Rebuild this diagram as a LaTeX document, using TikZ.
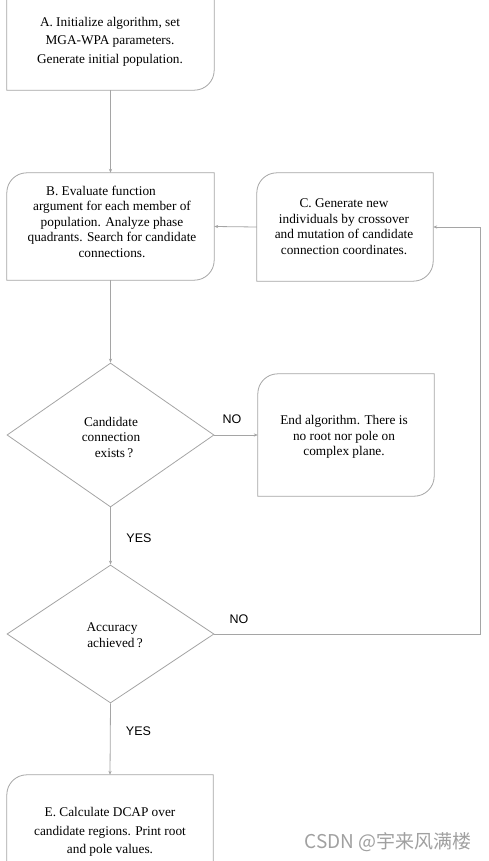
\documentclass[tikz,border=0pt]{standalone}
\usepackage{fontspec}
\setmainfont{Liberation Serif}
\newfontfamily\ynfont{Liberation Sans}
\newfontfamily\cjkfont{Noto Sans CJK SC}
\usetikzlibrary{arrows.meta,shapes.geometric}
\definecolor{linegray}{RGB}{165,165,165}
\definecolor{wmgray}{RGB}{160,160,160}
\newcommand\diagbox[1]{%
  \draw[boxline] (#1.west) [rounded corners=20pt] -- (#1.north west) [sharp corners]
    -- (#1.north east) -- (#1.east) [rounded corners=20pt] -- (#1.south east)
    [sharp corners] -- (#1.south west) -- cycle;}
\begin{document}
\begin{tikzpicture}[x=1pt,y=-1pt,
  boxshape/.style={draw=none,inner sep=0pt,rectangle},
  boxline/.style={draw=linegray,line width=0.8pt},
  dshape/.style={diamond,draw=linegray,line width=0.8pt,inner sep=0pt,minimum width=207pt},
  txt/.style={align=center,inner sep=0pt,font=\fontsize{13.3}{15.5}\selectfont},
  txtw/.style={align=center,inner sep=0pt,font=\fontsize{13.3}{18.5}\selectfont},
  conn/.style={draw=linegray,line width=0.8pt},
  arr/.style={conn,-{Stealth[length=4pt,width=3.2pt]}},
  yn/.style={inner sep=0pt,font=\ynfont\fontsize{12.5}{14}\selectfont}]
\useasboundingbox (0,0) rectangle (489,861);
\clip (0,0) rectangle (489,861);

% box shapes
\node[boxshape,minimum width=207pt,minimum height=120pt] (A) at (110.5,30) {};
\node[boxshape,minimum width=207pt,minimum height=107pt] (B) at (110.5,226.5) {};
\node[boxshape,minimum width=176pt,minimum height=108pt] (C) at (345,227) {};
\node[boxshape,minimum width=176pt,minimum height=122pt] (End) at (346,435) {};
\node[boxshape,minimum width=206pt,minimum height=125pt] (E) at (110,837.5) {};
\diagbox{A}
\diagbox{B}
\diagbox{C}
\diagbox{End}
\diagbox{E}

% diamonds
\node[dshape,minimum height=144pt] (D1) at (110.5,435) {};
\node[dshape,minimum height=138pt] (D2) at (110.5,634) {};

% texts
\node[txtw] (Atxt) at (110,41.5) {A. Initialize algorithm, set\\MGA-WPA parameters.\\Generate initial population.};
\node[txt] (Btxt) at (112,221.5) {B. Evaluate function\hspace*{22pt}\\argument for each member of\\population. Analyze phase\\quadrants. Search for candidate\\connections.};
\node[txt] (Ctxt) at (344,226.5) {C. Generate new\\individuals by crossover\\and mutation of candidate\\connection coordinates.};
\node[txt] (Endtxt) at (344,437) {End algorithm. There is\\no root nor pole on\\complex plane.};
\node[txt] (D1txt) at (111,437) {Candidate\\connection\\\hspace*{6pt}exists\,?};
\node[txt] (D2txt) at (112,635) {Accuracy\\\hspace*{6pt}achieved\,?};
\node[txtw] (Etxt) at (110,832) {E. Calculate DCAP over\\candidate regions. Print root\\and pole values.};

% labels
\node[yn] (no1) at (232,419) {NO};
\node[yn] (yes1) at (139,538) {YES};
\node[yn] (no2) at (239,619) {NO};
\node[yn] (yes2) at (138.5,731) {YES};

% connectors
\coordinate (R) at (480,634);
\draw[arr] (A.south) -- (B.north);
\draw[arr] (B.south) -- (D1.north);
\draw[arr] (C.west) -- (B.east);
\draw[arr] (D1.east) -- (End.west);
\draw[arr] (D1.south) -- (D2.north);
\draw[arr] (D2.east) -- (R) |- (C.east);
\draw[arr] (D2.south) -- (E.north);

% watermark
\node[inner sep=0pt,text=wmgray,font=\cjkfont\fontsize{19}{22}\selectfont] (wm) at (388,842) {CSDN @宇来风满楼};
\end{tikzpicture}
\end{document}
